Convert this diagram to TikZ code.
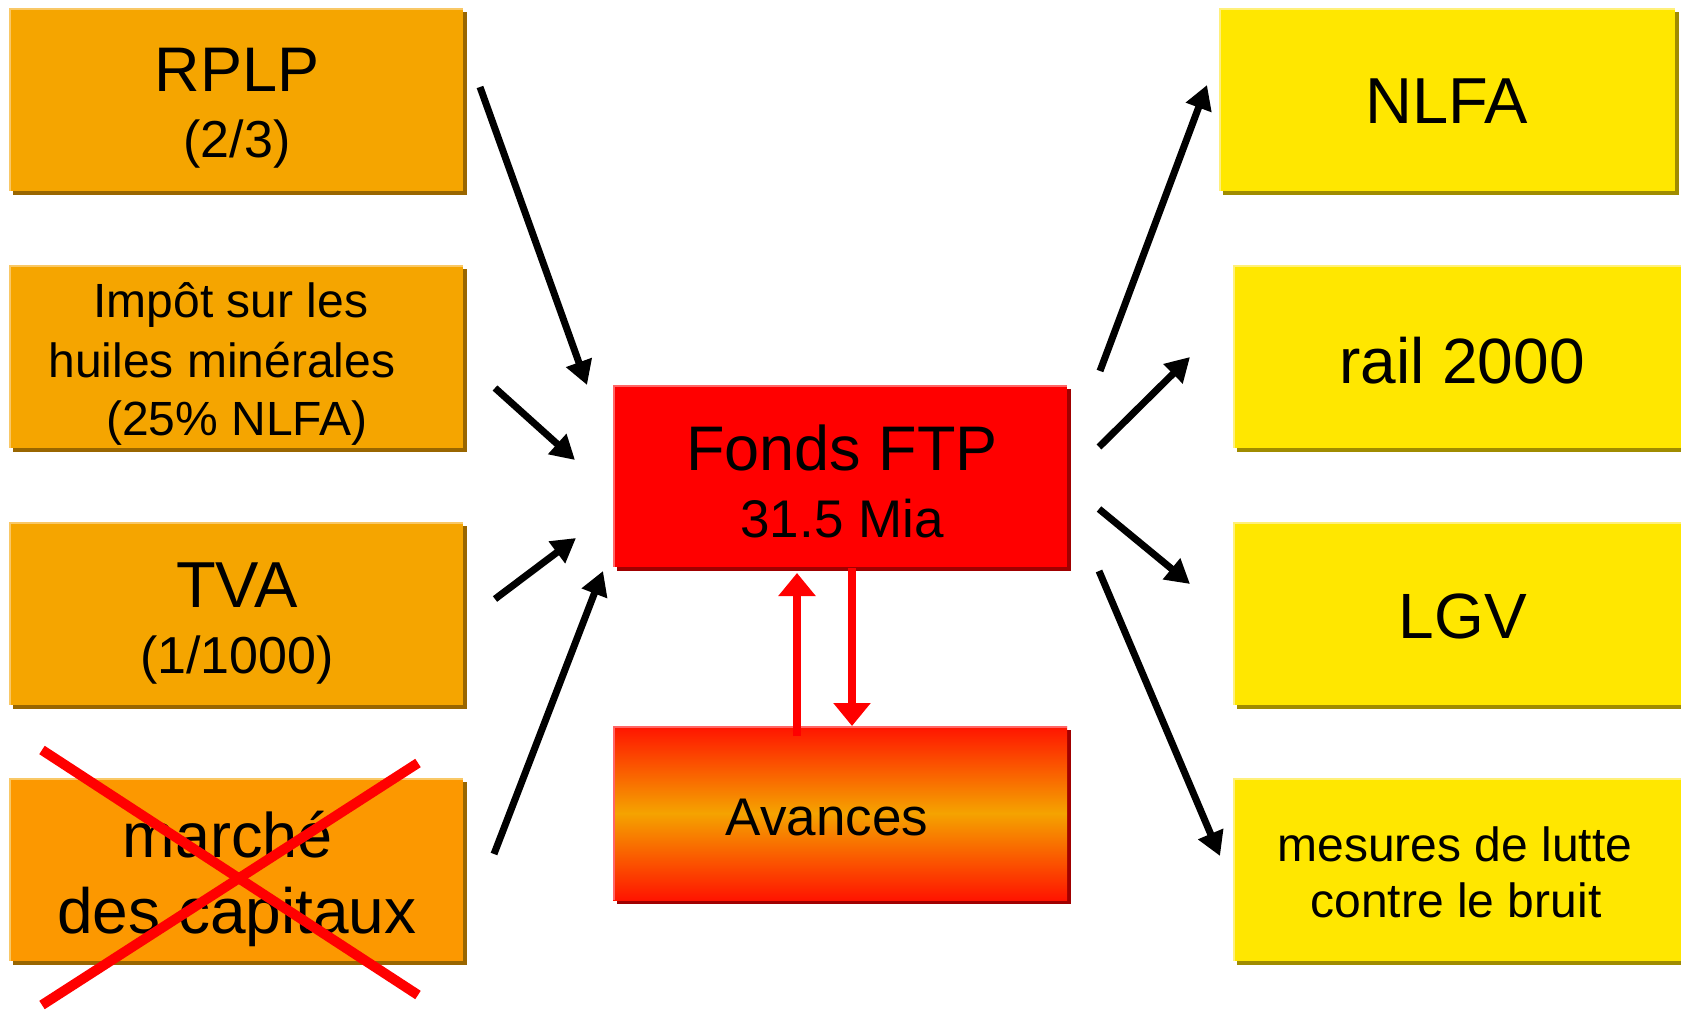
\documentclass[tikz,border=0pt]{standalone}
\usepackage{fontspec}
\setmainfont{Liberation Sans}
\usetikzlibrary{arrows.meta,shadows}
\definecolor{orangeA}{HTML}{F5A500}
\definecolor{orangeB}{HTML}{FC9800}
\definecolor{orangeShadow}{HTML}{996600}
\definecolor{orangeLight}{HTML}{F9C866}
\definecolor{yellowA}{HTML}{FFE700}
\definecolor{yellowShadow}{HTML}{A08C00}
\definecolor{yellowLight}{HTML}{FFF07A}
\definecolor{redA}{HTML}{FF0000}
\definecolor{redShadow}{HTML}{A00000}
\definecolor{redLight}{HTML}{FF6666}
\definecolor{avTop}{HTML}{FF1400}
\definecolor{avMid}{HTML}{F5A300}
\newcommand{\fsz}[1]{\fontsize{#1}{#1}\selectfont}
\tikzset{
  panel/.style n args={3}{fill=#1, draw=none, inner sep=0pt, anchor=north west,
    drop shadow={shadow xshift=4pt, shadow yshift=-4pt, opacity=1, fill=#2},
    path picture={\draw[#3, line width=4pt]
      (path picture bounding box.south west) -- (path picture bounding box.north west)
      -- (path picture bounding box.north east);}},
  lbl/.style={anchor=base, inner sep=0pt, text=black},
  flow/.style={draw=black, line width=7pt, -{Triangle[length=24pt,width=26pt]}},
  redflow/.style={draw=redA, line width=8pt, -{Triangle[length=23pt,width=36pt]}},
  crossline/.style={draw=redA, line width=10pt},
}
\begin{document}
\begin{tikzpicture}[x=1pt, y=-1pt]
\useasboundingbox (0,0) rectangle (1681,1011);
\clip (0,0) rectangle (1681,1011);
% left boxes
\node[panel={orangeA}{orangeShadow}{orangeLight}, minimum width=454pt, minimum height=183pt] (rplp) at (9,8) {};
\node[panel={orangeA}{orangeShadow}{orangeLight}, minimum width=454pt, minimum height=183pt] (impot) at (9,265) {};
\node[panel={orangeA}{orangeShadow}{orangeLight}, minimum width=454pt, minimum height=183pt] (tva) at (9,522) {};
\node[panel={orangeB}{orangeShadow}{orangeLight}, minimum width=454pt, minimum height=183pt] (marche) at (9,778) {};
% right boxes
\node[panel={yellowA}{yellowShadow}{yellowLight}, minimum width=456pt, minimum height=183pt] (nlfa) at (1219,8) {};
\node[panel={yellowA}{yellowShadow}{yellowLight}, minimum width=460pt, minimum height=183pt] (rail) at (1233,265) {};
\node[panel={yellowA}{yellowShadow}{yellowLight}, minimum width=460pt, minimum height=183pt] (lgv) at (1233,522) {};
\node[panel={yellowA}{yellowShadow}{yellowLight}, minimum width=460pt, minimum height=183pt] (bruit) at (1233,778) {};
% centre boxes
\node[panel={redA}{redShadow}{redLight}, minimum width=454pt, minimum height=182pt] (fonds) at (613,385) {};
\node[panel={avMid}{redShadow}{redLight}, top color=avTop, bottom color=avTop, middle color=avMid, minimum width=454pt, minimum height=174pt] (avances) at (613,726) {};
% texts
\node[lbl, font=\fsz{63}] (rplp-a) at (237,92) {RPLP};
\node[lbl, font=\fsz{52}] (rplp-b) at (237,158) {(2/3)};
\node[lbl, font=\fsz{48}] (impot-a) at (231,317) {Impôt sur les};
\node[lbl, font=\fsz{48}] (impot-b) at (222,377) {huiles minérales};
\node[lbl, font=\fsz{48}] (impot-c) at (237,435) {(25\% NLFA)};
\node[lbl, font=\fsz{65}] (tva-a) at (237,607) {TVA};
\node[lbl, font=\fsz{52}] (tva-b) at (237,673) {(1/1000)};
\node[lbl, font=\fsz{63}] (marche-a) at (228,857) {marché};
\node[lbl, font=\fsz{64}] (marche-b) at (237,933) {des capitaux};
\node[lbl, font=\fsz{63}] (fonds-a) at (842,470) {Fonds FTP};
\node[lbl, font=\fsz{53}] (fonds-b) at (842,537) {31.5 Mia};
\node[lbl, font=\fsz{53}] (avances-a) at (827,835) {Avances};
\node[lbl, font=\fsz{65}] (nlfa-a) at (1447,124) {NLFA};
\node[lbl, font=\fsz{64}] (rail-a) at (1462,383) {rail 2000};
\node[lbl, font=\fsz{64}] (lgv-a) at (1463,638) {LGV};
\node[lbl, font=\fsz{48}] (bruit-a) at (1455,861) {mesures de lutte};
\node[lbl, font=\fsz{48}] (bruit-b) at (1456,917) {contre le bruit};
% arrow end points
\coordinate (a1s) at (480,87);   \coordinate (a1e) at (587,385);
\coordinate (a2s) at (495,388);  \coordinate (a2e) at (575,460);
\coordinate (a3s) at (495,599);  \coordinate (a3e) at (576,538);
\coordinate (a4s) at (494,854);  \coordinate (a4e) at (603,571);
\coordinate (b1s) at (1100,371); \coordinate (b1e) at (1207,85);
\coordinate (b2s) at (1099,447); \coordinate (b2e) at (1190,357);
\coordinate (b3s) at (1099,509); \coordinate (b3e) at (1190,584);
\coordinate (b4s) at (1099,571); \coordinate (b4e) at (1220,856);
\draw[flow] (a1s) -- (a1e);
\draw[flow] (a2s) -- (a2e);
\draw[flow] (a3s) -- (a3e);
\draw[flow] (a4s) -- (a4e);
\draw[flow] (b1s) -- (b1e);
\draw[flow] (b2s) -- (b2e);
\draw[flow] (b3s) -- (b3e);
\draw[flow] (b4s) -- (b4e);
% red arrows between fonds and avances
\coordinate (r1s) at (797,736); \coordinate (r1e) at (797,573);
\coordinate (r2s) at (852,568); \coordinate (r2e) at (852,726);
\draw[redflow] (r1s) -- (r1e);
\draw[redflow] (r2s) -- (r2e);
% cross
\coordinate (x1a) at (42,750);  \coordinate (x1b) at (418,995);
\coordinate (x2a) at (42,1005); \coordinate (x2b) at (418,763);
\draw[crossline] (x1a) -- (x1b);
\draw[crossline] (x2a) -- (x2b);
\end{tikzpicture}
\end{document}
